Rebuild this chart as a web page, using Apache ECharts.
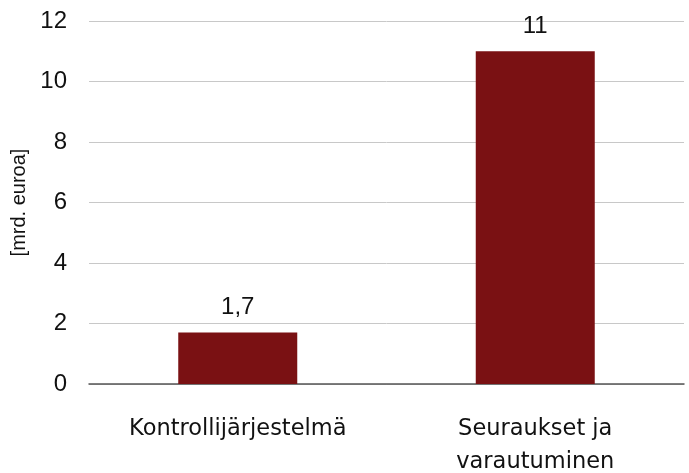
<!DOCTYPE html>
<html><head><meta charset="utf-8">
<script src="https://cdn.jsdelivr.net/npm/echarts@6/dist/echarts.min.js"></script>
<style>html,body{margin:0;padding:0;background:#fff}#c{width:689px;height:473px}</style>
</head><body><div id="c"></div>
<script>
const categories = ['Kontrollijärjestelmä', 'Seuraukset ja\nvarautuminen'];
const values = [1.7, 11];
const valueLabels = ['1,7', '11'];
const yTicks = [0, 2, 4, 6, 8, 10, 12];
const yName = '[mrd. euroa]';

const chart = echarts.init(document.getElementById('c'));
const catFont = '"DejaVu Sans", sans-serif';
const numFont = '"Liberation Sans", Arial, sans-serif';
chart.setOption({
  animation: false,
  grid: {left: 89, right: 5, top: 21, bottom: 89, outerBoundsMode: 'none', containLabel: false},
  xAxis: {
    type: 'category', data: categories,
    axisTick: {show: false},
    axisLine: {lineStyle: {color: '#555', width: 1.5}},
    axisLabel: {color: '#111', fontSize: 22.5, fontFamily: catFont, margin: 29, lineHeight: 33, interval: 0}
  },
  yAxis: {
    type: 'value', min: 0, max: 12, interval: 2,
    name: yName, nameLocation: 'middle', nameRotate: 90, nameGap: 53,
    nameTextStyle: {color: '#111', fontSize: 20, fontFamily: numFont},
    axisLabel: {color: '#111', fontSize: 24, fontFamily: numFont, margin: 22,
      formatter: v => yTicks.includes(v) ? String(v) : ''},
    splitLine: {lineStyle: {color: '#c8c8c8', width: 1}},
    axisLine: {show: false}, axisTick: {show: false}
  },
  series: [{
    type: 'bar', barWidth: '40%',
    data: values,
    itemStyle: {color: '#7a1113'},
    label: {show: true, position: 'top', distance: 13, color: '#111', fontSize: 24, fontFamily: numFont,
      formatter: p => valueLabels[p.dataIndex]}
  }]
});
</script></body></html>
